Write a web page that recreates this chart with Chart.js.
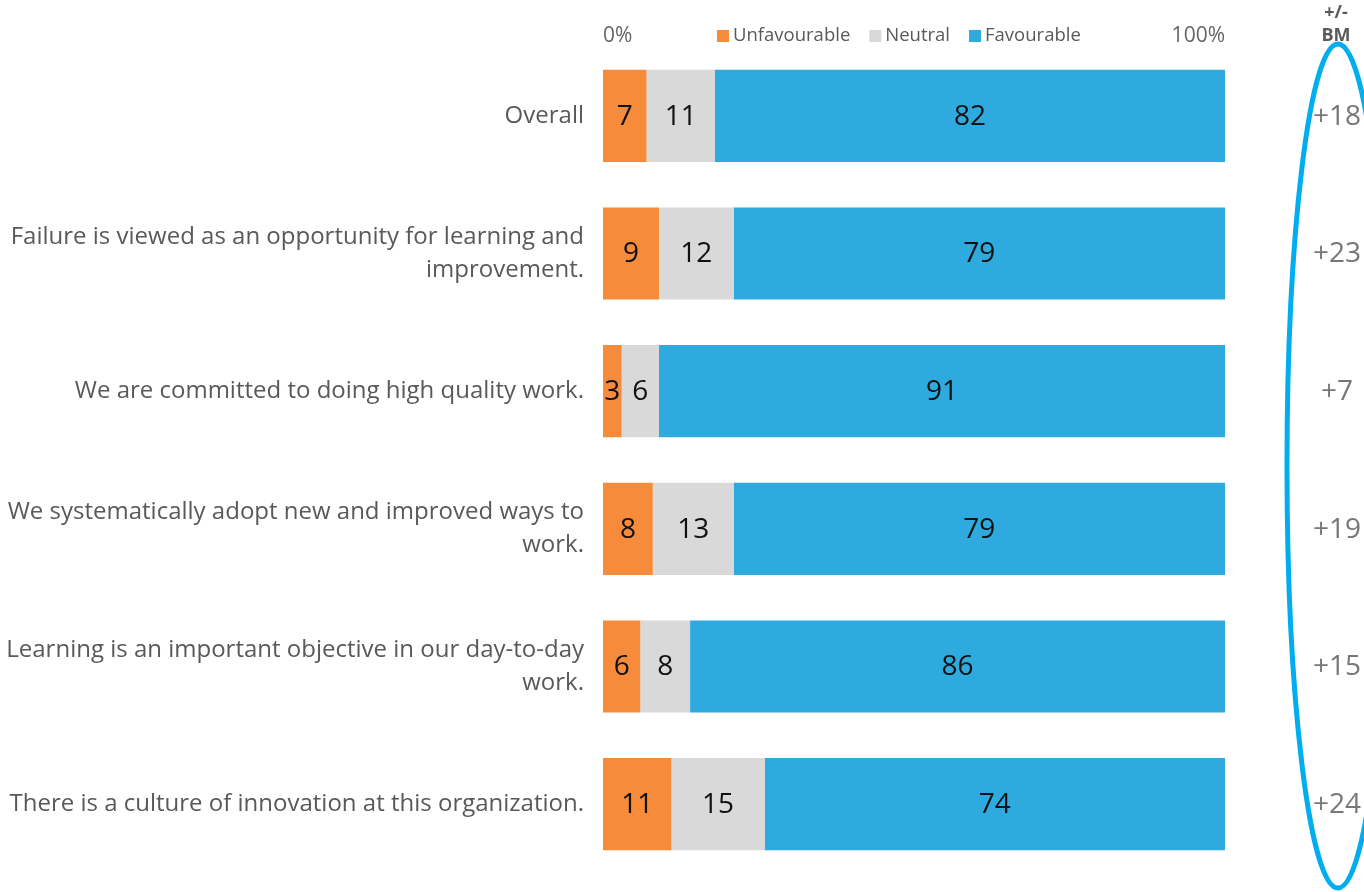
<!DOCTYPE html>
<html>
<head>
<meta charset="utf-8">
<script src="https://cdn.jsdelivr.net/npm/chart.js@4"></script>
<style>
  html, body { margin: 0; padding: 0; background: #fff; }
  #wrap { width: 1364px; height: 892px; position: relative; }
</style>
</head>
<body>
<div id="wrap"><canvas id="myChart"></canvas></div>
<script>
const categorias = [
    'Overall',
    ['Failure is viewed as an opportunity for learning and', 'improvement.'],
    'We are committed to doing high quality work.',
    ['We systematically adopt new and improved ways to', 'work.'],
    ['Learning is an important objective in our day-to-day', 'work.'],
    'There is a culture of innovation at this organization.'
];
const desfavorable = [7, 9, 3, 8, 6, 11];
const neutral = [11, 12, 6, 13, 8, 15];
const favorable = [82, 79, 91, 79, 86, 74];
const bm = ['+18', '+23', '+7', '+19', '+15', '+24'];
const ticksX = [0, 100];

const fuente = "'Open Sans', 'Noto Sans', sans-serif";

// numeros dentro de las barras
const etiquetas = {
    id: 'etiquetas',
    afterDatasetsDraw(chart) {
        const ctx = chart.ctx;
        ctx.save();
        ctx.font = '28px ' + fuente;
        ctx.fillStyle = '#111';
        ctx.textAlign = 'center';
        ctx.textBaseline = 'middle';
        chart.data.datasets.forEach((ds, i) => {
            chart.getDatasetMeta(i).data.forEach((bar, j) => {
                const mid = (bar.x + bar.base) / 2;
                ctx.fillText(ds.data[j], mid, bar.y + 1);
            });
        });
        ctx.restore();
    }
};

// leyenda + columna BM + elipse
const extras = {
    id: 'extras',
    afterDraw(chart) {
        const ctx = chart.ctx;
        const y = chart.scales.y;
        ctx.save();

        // leyenda
        ctx.font = '18.5px ' + fuente;
        ctx.textBaseline = 'middle';
        ctx.textAlign = 'left';
        let x = 717;
        chart.data.datasets.forEach(ds => {
            ctx.fillStyle = ds.backgroundColor;
            ctx.fillRect(x, 30, 12, 12);
            ctx.fillStyle = '#595959';
            ctx.fillText(ds.label, x + 16, 36);
            x += 16 + ctx.measureText(ds.label).width + 19;
        });

        // +/- BM
        ctx.textAlign = 'center';
        ctx.font = 'bold 18px ' + fuente;
        ctx.fillStyle = '#595959';
        ctx.fillText('+/-', 1336, 13);
        ctx.fillText('BM', 1336, 36);

        ctx.font = '28px ' + fuente;
        ctx.fillStyle = '#777';
        bm.forEach((v, i) => {
            ctx.fillText(v, 1337, y.getPixelForValue(i) + 1);
        });

        // elipse
        ctx.strokeStyle = '#00AEEF';
        ctx.lineWidth = 5;
        ctx.beginPath();
        ctx.ellipse(1338, 466, 51, 422, 0, 0, Math.PI * 2);
        ctx.stroke();
        ctx.restore();
    }
};

const ctx = document.getElementById('myChart').getContext('2d');
const myChart = new Chart(ctx, {
    type: 'bar',
    data: {
        labels: categorias,
        datasets: [
            { label: 'Unfavourable', data: desfavorable, backgroundColor: '#F58B3B' },
            { label: 'Neutral', data: neutral, backgroundColor: '#D9D9D9' },
            { label: 'Favourable', data: favorable, backgroundColor: '#2EAADF' }
        ]
    },
    options: {
        indexAxis: 'y',
        responsive: true,
        maintainAspectRatio: false,
        animation: false,
        barPercentage: 0.67,
        categoryPercentage: 1,
        layout: { padding: { top: 0, right: 139, bottom: 19, left: 0 } },
        plugins: {
            legend: { display: false },
            tooltip: { enabled: false }
        },
        scales: {
            x: {
                position: 'top',
                stacked: true,
                min: 0,
                max: 100,
                grid: { display: false },
                border: { display: false },
                afterBuildTicks: s => { s.ticks = ticksX.map(v => ({ value: v })); },
                afterFit: s => { s.height = 47; },
                ticks: {
                    align: 'inner',
                    padding: -10,
                    color: '#666',
                    font: { family: fuente, size: 21 },
                    callback: v => v + '%'
                }
            },
            y: {
                stacked: true,
                grid: { display: false },
                border: { display: false },
                afterFit: s => { s.width = 603; s.paddingTop = 0; s.paddingBottom = 0; },
                ticks: {
                    padding: 11,
                    color: '#595959',
                    font: { family: fuente, size: 24, lineHeight: 1.375 }
                }
            }
        }
    },
    plugins: [etiquetas, extras]
});
</script>
</body>
</html>
